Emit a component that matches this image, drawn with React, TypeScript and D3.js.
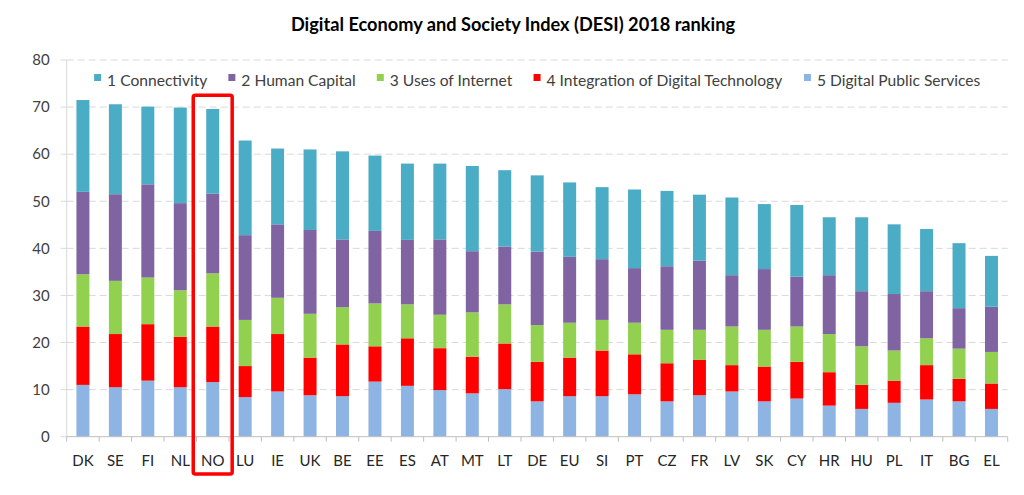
import React from "react";
import * as d3 from "d3";

const countries = ["DK","SE","FI","NL","NO","LU","IE","UK","BE","EE","ES","AT","MT","LT","DE","EU","SI","PT","CZ","FR","LV","SK","CY","HR","HU","PL","IT","BG","EL"];

const digitalPublicServices = [11.0,10.5,11.9,10.5,11.6,8.4,9.6,8.8,8.6,11.7,10.8,9.9,9.2,10.1,7.5,8.6,8.6,9.0,7.5,8.8,9.6,7.5,8.1,6.6,5.9,7.2,7.9,7.5,5.9];
const integrationOfDigitalTechnology = [12.4,11.3,12.0,10.7,11.8,6.6,12.2,8.0,11.0,7.5,10.1,8.9,7.8,9.7,8.4,8.2,9.7,8.5,8.1,7.5,5.6,7.4,7.8,7.1,5.1,4.7,7.3,4.8,5.4];
const usesOfInternet = [11.1,11.3,9.9,9.9,11.3,9.8,7.7,9.3,7.9,9.1,7.2,7.1,9.4,8.3,7.8,7.4,6.5,6.7,7.1,6.4,8.2,7.8,7.5,8.1,8.2,6.4,5.7,6.4,6.7];
const humanCapital = [17.5,18.4,19.8,18.5,16.9,18.0,15.6,17.8,14.4,15.4,13.7,16.0,13.0,12.3,15.6,14.0,12.9,11.6,13.5,14.7,10.9,12.9,10.6,12.5,11.7,12.0,10.0,8.6,9.6];
const connectivity = [19.5,19.1,16.5,20.3,18.0,20.1,16.1,17.1,18.7,16.0,16.2,16.1,18.1,16.2,16.2,15.8,15.3,16.7,16.0,14.0,16.5,13.8,15.2,12.3,15.7,14.8,13.2,13.8,10.8];

const seriesKeys = ["dps","integration","uses","human","connectivity"];
const seriesValues = [digitalPublicServices, integrationOfDigitalTechnology, usesOfInternet, humanCapital, connectivity];
const seriesColors = ["#8DB4E2","#FF0000","#92D050","#8064A2","#4BACC6"];
const legendLabels = ["1 Connectivity","2 Human Capital","3 Uses of Internet","4 Integration of Digital Technology","5 Digital Public Services"];
const legendColors = ["#4BACC6","#8064A2","#92D050","#FF0000","#8DB4E2"];
const yTicks = [0,10,20,30,40,50,60,70,80];
const highlighted = "NO";
const highlightTop = 72.5;
const title = "Digital Economy and Society Index (DESI) 2018 ranking";

const W = 1024, H = 495;
const left = 66.7, right = 1007.7, top = 60, bottom = 436.7;
const FONT = "Lato, 'Open Sans', sans-serif";

let ctx: CanvasRenderingContext2D | null = null;
function measure(text: string, font: string) {
  if (!ctx) ctx = document.createElement("canvas").getContext("2d");
  ctx!.font = font;
  return ctx!.measureText(text).width;
}

export default function App() {
  React.useEffect(() => { document.body.style.margin = "0"; }, []);

  const table = countries.map((c, i) => {
    const row: any = { country: c };
    seriesKeys.forEach((k, j) => { row[k] = seriesValues[j][i]; });
    return row;
  });
  const stacked = d3.stack<any>().keys(seriesKeys)(table);

  const x = d3.scaleBand<string>().domain(countries).range([left, right]).paddingInner(0.6).paddingOuter(0.3);
  const y = d3.scaleLinear().domain([0, 80]).range([bottom, top]);
  const step = x.step();
  const boundaries = d3.range(countries.length + 1).map(i => left + i * step);

  // legend layout
  const legendSize = 15.6;
  const legendFont = `${legendSize}px ${FONT}`;
  const sq = 7, sqGap = 6, itemGap = 21;
  const widths = legendLabels.map(l => sq + sqGap + measure(l, legendFont));
  const totalW = d3.sum(widths) + itemGap * (legendLabels.length - 1);
  let cursor = (left + right) / 2 - totalW / 2;
  const legendX = widths.map(w => { const p = cursor; cursor += w + itemGap; return p; });
  const legendY = 82;

  const hx = (x(highlighted) as number) + x.bandwidth() / 2;

  return (
    <svg width={W} height={H} style={{ display: "block" }} fontFamily={FONT}>
      <rect width={W} height={H} fill="#fff" />
      <text x={513} y={31} textAnchor="middle" fontWeight="bold" fontSize={18.2} fill="#000">{title}</text>
      {/* grid */}
      {yTicks.filter(t => t > 0).map(t => (
        <line key={t} x1={left} x2={right} y1={y(t)} y2={y(t)} stroke="#D9D9D9" strokeWidth={1} strokeDasharray="7,4" />
      ))}
      {/* y axis */}
      <line x1={left} x2={left} y1={top} y2={bottom} stroke="#D9D9D9" />
      {yTicks.map(t => (
        <g key={t}>
          <line x1={left - 6} x2={left} y1={y(t)} y2={y(t)} stroke="#D9D9D9" />
          <text x={left - 17} y={y(t)} dy="0.35em" textAnchor="end" fontSize={15} fill="#404040">{t}</text>
        </g>
      ))}
      {/* bars */}
      {stacked.map((s, j) => (
        <g key={s.key} fill={seriesColors[j]}>
          {s.map((d, i) => (
            <rect key={i} x={x(countries[i])} width={x.bandwidth()} y={y(d[1])} height={y(d[0]) - y(d[1])} />
          ))}
        </g>
      ))}
      {/* x axis */}
      <line x1={left} x2={right} y1={bottom} y2={bottom} stroke="#BFBFBF" />
      {boundaries.map((b, i) => (
        <line key={i} x1={b} x2={b} y1={bottom} y2={bottom + 5} stroke="#BFBFBF" />
      ))}
      {countries.map(c => (
        <text key={c} x={(x(c) as number) + x.bandwidth() / 2} y={466} textAnchor="middle" fontSize={15} fill="#262626">{c}</text>
      ))}
      {/* legend */}
      {legendLabels.map((l, i) => (
        <g key={l}>
          <rect x={legendX[i]} y={legendY - sq - 1} width={sq} height={sq} fill={legendColors[i]} />
          <text x={legendX[i] + sq + sqGap} y={legendY + 4} fontSize={legendSize} fill="#404040">{l}</text>
        </g>
      ))}
      {/* highlight */}
      <rect x={hx - 0.6 * step} y={y(highlightTop)} width={1.2 * step} height={474 - y(highlightTop)} fill="none" stroke="#FF0000" strokeWidth={3.5} rx={2} />
    </svg>
  );
}
